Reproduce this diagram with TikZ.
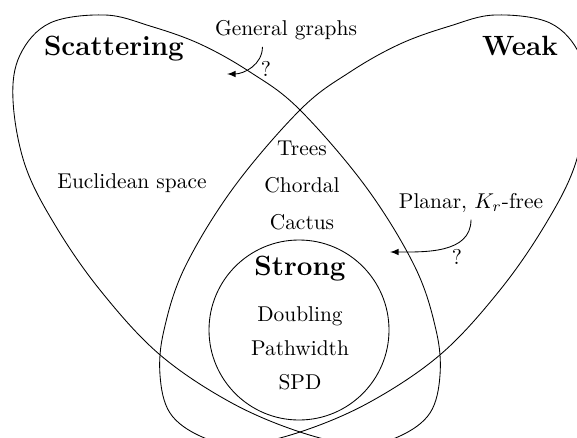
\documentclass[tikz,border=0pt]{standalone}
\usepackage{amsmath}
\usepackage{amsfonts}
\usepackage{tikz}

\begin{document}
\begin{tikzpicture}[x=0.467pt, y=-0.467pt, setname/.style={font=\fontsize{13pt}{15pt}\selectfont\bfseries, anchor=base}, cls/.style={anchor=base}]

	\useasboundingbox (0,0) rectangle (577,438);
	\clip (0,0) rectangle (577,438);

	\draw[black] plot[smooth cycle, tension=0.6] coordinates {(105,15) (150,26) (200,44) (250,72) (299,109) (366,187) (415,267) (436,330) (440,375) (430,413) (400,436) (360,445) (300,432) (230,402) (159,354) (100,290) (55,225) (25,165) (13,100) (20,55) (50,23)};
	\begin{scope}[shift={(600,0)}, xscale=-1]
		\draw[black] plot[smooth cycle, tension=0.6] coordinates {(105,15) (150,26) (200,44) (250,72) (299,109) (366,187) (415,267) (436,330) (440,375) (430,413) (400,436) (360,445) (300,432) (230,402) (159,354) (100,290) (55,225) (25,165) (13,100) (20,55) (50,23)};
	\end{scope}
	\draw[black] (299,330) circle (90);

	\node[setname] (scat) at (114,55) {Scattering};
	\node[setname] (weak) at (520,55) {Weak};
	\node[setname] (strong) at (300,275) {Strong};

	\node[cls] (gen) at (286,35) {General graphs};
	\node[cls] (eucl) at (132,188) {Euclidean space};
	\node[cls] (trees) at (302,155) {Trees};
	\node[cls] (chordal) at (302,192) {Chordal};
	\node[cls] (cactus) at (302,229) {Cactus};
	\node[cls] (doubling) at (300,321) {Doubling};
	\node[cls] (pathw) at (300,355) {Pathwidth};
	\node[cls] (spd) at (300,389) {SPD};
	\node[cls] (planar) at (471,208) {Planar, $K_r$-free};

	\coordinate (gentip) at (227,74);
	\coordinate (planartip) at (390,252);
	\draw[-latex] ([xshift=-11pt]gen.south) to[out=-90, in=0] (gentip);
	\draw[-latex] (planar.south) to[out=-90, in=0] (planartip);
	\node (genq) at (266,69) {?};
	\node (planarq) at (457,257) {?};

\end{tikzpicture}
\end{document}
